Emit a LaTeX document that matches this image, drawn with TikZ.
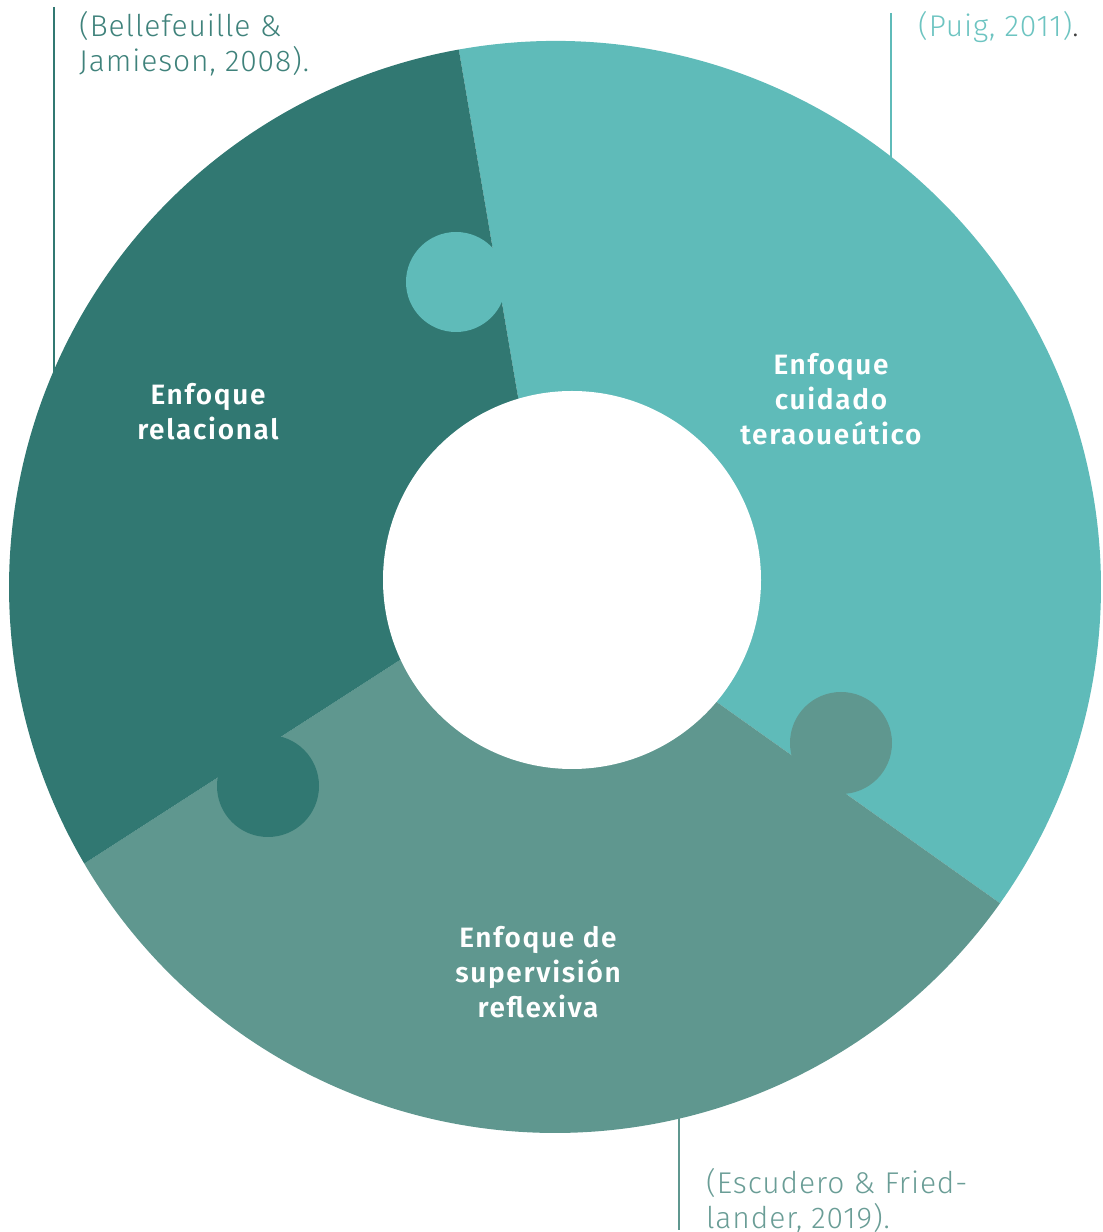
\documentclass[tikz,border=0pt]{standalone}
\usepackage{fontspec}
\setmainfont{Fira Sans}
\newfontfamily\lightfont[LetterSpace=3]{Fira Sans Light}
\newfontfamily\labfont[LetterSpace=6]{Fira Sans SemiBold}
\usetikzlibrary{calc}
\definecolor{cdark}{HTML}{317872}
\definecolor{cteal}{HTML}{5FBBB9}
\definecolor{cmed}{HTML}{5F978F}
\definecolor{tdark}{HTML}{3F827B}
\definecolor{tteal}{HTML}{6DC4C1}
\definecolor{tmed}{HTML}{6A9D96}
\begin{document}
\begin{tikzpicture}[x=1pt,y=1pt,
  cite/.style={anchor=base west, font=\lightfont\fontsize{30}{35}\selectfont, inner sep=0pt, align=left},
  seglabel/.style={font=\labfont\fontsize{28}{35}\selectfont, text=white, align=center, inner sep=0pt},
  refline/.style={line width=2.6pt}]
\useasboundingbox (0,0) rectangle (1103,1232);
% centres
\coordinate (O) at (555,645);
\coordinate (I) at (572,652);
\coordinate (Ai) at (518,835);
\coordinate (Bi) at (718,529);
\coordinate (Ci) at (400,572);
\coordinate (Ao) at ($(O)+(100.15:546)$);
\coordinate (Bo) at ($(O)+(-35.4:546)$);
\coordinate (Co) at ($(O)+(-149.56:546)$);
% reference lines
\coordinate (L1a) at (54,1225); \coordinate (L1b) at (54,840);
\coordinate (L2a) at (891,1219); \coordinate (L2b) at (891,1050);
\coordinate (L3a) at (679,140); \coordinate (L3b) at (679,2);
\draw[refline, draw=cdark] (L1a) -- (L1b);
\draw[refline, draw=cteal] (L2a) -- (L2b);
\draw[refline, draw=cmed] (L3a) -- (L3b);
% segments
\fill[cteal] (Ai) -- (Ao) arc[start angle=100.15, end angle=-35.4, radius=546] -- (Bi) -- (I) -- cycle;
\fill[cmed] (Bi) -- (Bo) arc[start angle=-35.4, end angle=-149.56, radius=546] -- (Ci) -- (I) -- cycle;
\fill[cdark] (Ci) -- (Co) arc[start angle=210.44, end angle=100.15, radius=546] -- (Ai) -- (I) -- cycle;
% knobs
\fill[cteal] (456,950) circle[radius=50];
\fill[cmed] (841,489) circle[radius=51];
\fill[cdark] (268,446) circle[radius=51];
% hole
\fill[white] (I) circle[radius=189];
% labels
\node[seglabel] (rel) at (208,820) {Enfoque\\relacional};
\node[seglabel] (cui) at (831,833) {Enfoque\\cuidado\\teraoueútico};
\node[seglabel] (sup) at (538,260) {Enfoque de\\supervisión\\reflexiva};
% citations
\node[cite, text=tdark] (c1) at (79,1160) {(Bellefeuille \&\\Jamieson, 2008).};
\node[cite] (c2) at (918,1195) {\textcolor{tteal}{(Puig, 2011)}\textcolor{darkgray}{.}};
\node[cite, text=tmed] (c3) at (706,4) {(Escudero \& Fried-\\lander, 2019).};
\end{tikzpicture}
\end{document}
